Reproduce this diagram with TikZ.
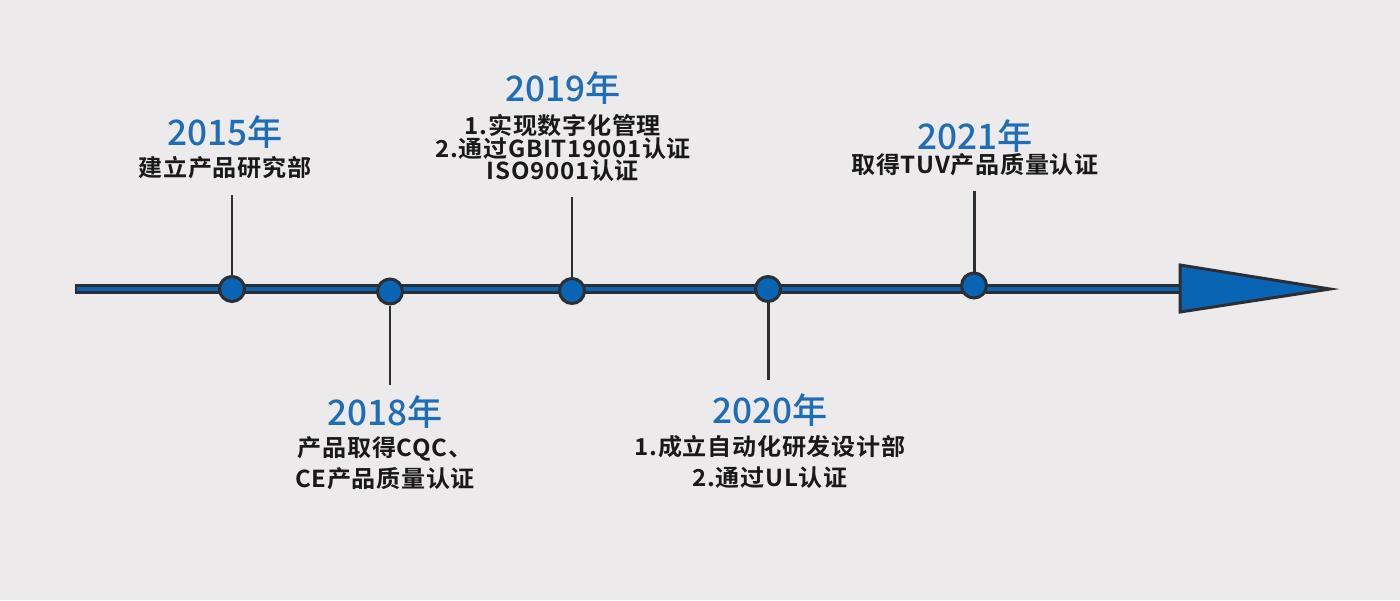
\documentclass[tikz,border=0pt]{standalone}
\usepackage{fontspec}
\usepackage{tikz}
\usetikzlibrary{positioning}
\newfontfamily\cjkyear{Noto Sans CJK SC Medium}
\newfontfamily\cjkbody[FakeStretch=1.03,LetterSpace=3]{Noto Sans CJK SC Bold}
\definecolor{tl-bg}{HTML}{ECEAEA}
\definecolor{tl-blue}{HTML}{0A64B4}
\definecolor{tl-year}{HTML}{1E6DB6}
\definecolor{tl-dark}{HTML}{2B2E33}

\begin{document}
\begin{tikzpicture}[x=0.02cm,y=-0.02cm,
  evdot/.style={circle,draw=tl-dark,fill=tl-blue,line width=1.7pt,minimum size=0.5cm,inner sep=0pt},
  stem/.style={tl-dark,line width=1.7pt},
  year/.style={text=tl-year,inner sep=0pt,font=\cjkyear\fontsize{20}{24}\selectfont},
  event/.style={text=black!90,align=center,inner sep=0pt,font=\cjkbody\fontsize{13.3}{17.6}\selectfont}]
\fill[tl-bg] (0,0) rectangle (1400,600);
\useasboundingbox (0,0) rectangle (1400,600);
% axis
\coordinate (start) at (75,289);
\coordinate (base) at (1180,289);
\draw[tl-dark,line width=5.7pt] (start) -- (base);
\draw[tl-blue,line width=2.3pt] ([xshift=1.4pt]start) -- (base);
\draw[tl-dark,fill=tl-blue,line width=1.7pt,line join=miter] (1180,265) -- (1330,289) -- (1180,312) -- cycle;
% stems and dots
\coordinate (t15) at (232,195);
\coordinate (t18) at (390,385);
\coordinate (t19) at (572,197);
\coordinate (t20) at (768,380);
\coordinate (t21) at (974,191);
\node[evdot] (d15) at (232,289) {};
\node[evdot] (d18) at (390,291.5) {};
\node[evdot] (d19) at (572,291) {};
\node[evdot] (d20) at (768,289) {};
\node[evdot] (d21) at (974,285.5) {};
\draw[stem] (t15) -- (d15);
\draw[stem] (d18) -- (t18);
\draw[stem] (t19) -- (d19);
\draw[stem] (d20) -- (t20);
\draw[stem] (t21) -- (d21);
% labels
\node[year] (y15) at (225,132) {2015年};
\node[event] (e15) at (225,168) {建立产品研究部};
\node[year] (y18) at (385,412) {2018年};
\node[event] (e18) at (385,463) {产品取得CQC、\\CE产品质量认证};
\node[year] (y19) at (563,88.5) {2019年};
\node[event,font=\cjkbody\fontsize{13.3}{12.8}\selectfont] (e19) at (563,148) {1.实现数字化管理\\2.通过GBIT19001认证\\ISO9001认证};
\node[year] (y20) at (770,410) {2020年};
\node[event] (e20) at (770,462) {1.成立自动化研发设计部\\2.通过UL认证};
\node[year] (y21) at (975,136) {2021年};
\node[event] (e21) at (975,165) {取得TUV产品质量认证};
\end{tikzpicture}
\end{document}
